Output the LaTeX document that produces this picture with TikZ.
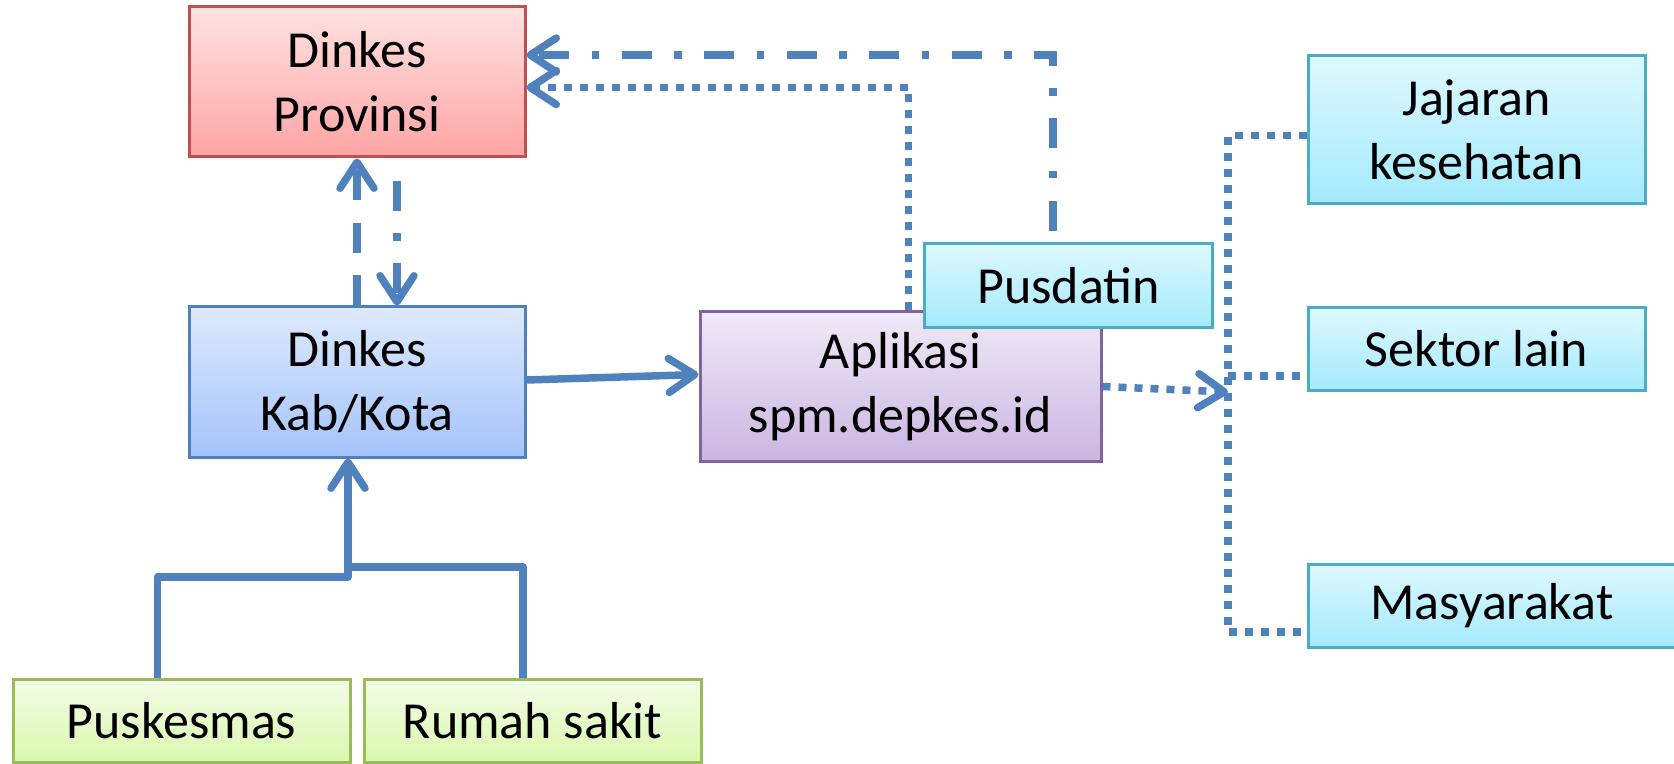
\documentclass[tikz,border=0pt]{standalone}
\usepackage{fontspec}
\setmainfont{Carlito}
\usetikzlibrary{arrows.meta,calc}
\definecolor{lc}{HTML}{4F81BD}
\definecolor{provb}{HTML}{C0504D}
\definecolor{provt}{HTML}{FFE2E2}
\definecolor{provbot}{HTML}{FFA4A4}
\definecolor{kabb}{HTML}{4F81BD}
\definecolor{kabt}{HTML}{DEE9FD}
\definecolor{kabbot}{HTML}{A4C3FA}
\definecolor{aplb}{HTML}{8064A2}
\definecolor{aplt}{HTML}{F0E9F7}
\definecolor{aplbot}{HTML}{C9B6E2}
\definecolor{cyb}{HTML}{4BACC6}
\definecolor{cyt}{HTML}{DFF8FF}
\definecolor{cybot}{HTML}{A3EAFC}
\definecolor{grb}{HTML}{9BBB59}
\definecolor{grt}{HTML}{F3FCE8}
\definecolor{grbot}{HTML}{D9F8AE}
\begin{document}
\begin{tikzpicture}[x=0.5pt,y=-0.5pt,
  box/.style={draw, line width=1.5pt, align=center, inner sep=0pt, text=black,
    font=\fontsize{26}{32}\selectfont},
  redbox/.style={box, draw=provb, top color=provt, bottom color=provbot},
  bluebox/.style={box, draw=kabb, top color=kabt, bottom color=kabbot},
  purplebox/.style={box, draw=aplb, top color=aplt, bottom color=aplbot},
  cyanbox/.style={box, draw=cyb, top color=cyt, bottom color=cybot},
  greenbox/.style={box, draw=grb, top color=grt, bottom color=grbot},
  conn/.style={draw=lc, line width=3.75pt},
  solidline/.style={conn, line join=round},
  dotline/.style={conn, dash pattern=on 4pt off 4pt},
  dashdotline/.style={conn, dash pattern=on 15pt off 11.25pt on 3.75pt off 11.25pt},
  dashline/.style={conn, dash pattern=on 15pt off 11.25pt},
  arrowtip/.style={-{Straight Barb[length=13pt,width=17pt,line cap=round,line join=round]}},
]
\useasboundingbox (0,0) rectangle (1674,764);

\node[redbox, minimum width=168pt, minimum height=75pt] (prov) at (357,82) {Dinkes\\Provinsi};
\node[bluebox, minimum width=168pt, minimum height=75pt] (kab) at (357,382) {Dinkes\\Kab/Kota};
\node[greenbox, minimum width=168.5pt, minimum height=41.5pt] (pusk) at (181.5,720.5) {Puskesmas};
\node[greenbox, minimum width=168.5pt, minimum height=41.5pt] (rs) at (532.5,720.5) {Rumah sakit};
\node[purplebox, minimum width=200.5pt, minimum height=74.5pt] (apl) at (900.5,386.5) {Aplikasi\\spm.depkes.id};
\node[cyanbox, minimum width=144pt, minimum height=42pt] (pus) at (1068.5,285.5) {Pusdatin};
\node[cyanbox, minimum width=168.5pt, minimum height=74pt] (jaj) at (1476.5,130) {Jajaran\\kesehatan};
\node[cyanbox, minimum width=168.5pt, minimum height=41.5pt] (sek) at (1476.5,349) {Sektor lain};
\node[cyanbox, minimum width=184pt, minimum height=41.5pt] (mas) at (1492,605.5) {Masyarakat};

% Kab <-> Provinsi
\draw[dashline, arrowtip] (kab.north) -- (prov.south);
\draw[dashdotline, dash phase=30pt, arrowtip] ([xshift=20pt]prov.south) -- ([xshift=20pt]kab.north);

% Kab -> Aplikasi
\draw[solidline, arrowtip] ([yshift=1pt]kab.east) -- ([yshift=6pt]apl.west);

% Puskesmas / Rumah sakit -> Kab
\coordinate (jl) at (348,577);
\coordinate (jr) at (348,567);
\draw[solidline] ([xshift=-12pt]pusk.north) |- (jl) -- (jr);
\draw[solidline, arrowtip] ([xshift=-4.75pt]rs.north) |- (jr) -- (jr |- kab.south);

% Pusdatin / Aplikasi -> Provinsi
\draw[dashdotline, dash phase=35.75pt, arrowtip] ([xshift=-7.75pt]pus.north) |- ([yshift=13.5pt]prov.east);
\draw[dotline, arrowtip] ([xshift=4pt]apl.north) |- ([yshift=-2.75pt]prov.east);

% Aplikasi -> distribution
\coordinate (bp) at (1228,392);
\coordinate (bt) at (1228,135.5);
\coordinate (bb) at (1228,632);
\coordinate (bs) at (1228,376);
\draw[dotline, arrowtip] (apl.east) -- (bp);
\draw[dotline] ([yshift=-2.75pt]jaj.west) -- (bt) -- (bb) -- ([yshift=-13.25pt]mas.west);
\draw[dotline] (bs) -- ([yshift=-13.5pt]sek.west);
\end{tikzpicture}
\end{document}
